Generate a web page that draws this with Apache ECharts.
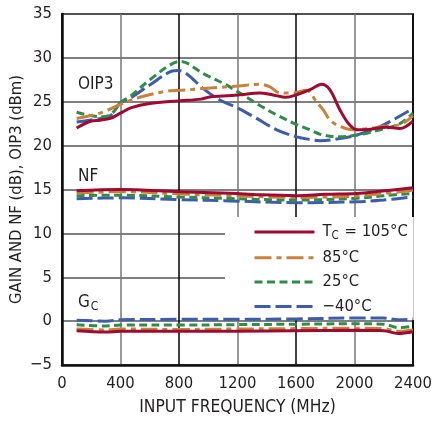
<!DOCTYPE html>
<html><head><meta charset="utf-8">
<script src="https://cdn.jsdelivr.net/npm/echarts/dist/echarts.min.js"></script>
<style>html,body{margin:0;padding:0;background:#fff}#c{width:433px;height:423px}</style>
</head><body><div id="c"></div>
<script>
// ---- data ----
const seriesNames = ['TC = 105°C', '85°C', '25°C', '−40°C'];
const xTicks = [0, 400, 800, 1200, 1600, 2000, 2400];
const yTicks = [-5, 0, 5, 10, 15, 20, 25, 30, 35];
const yTitle = 'GAIN AND NF (dB), OIP3 (dBm)';
const xTitle = 'INPUT FREQUENCY (MHz)';

const oip3_105 = [[100,22.0],[200,22.8],[260,22.9],[330,23.1],[400,23.7],[470,24.3],[600,24.8],[800,25.1],[950,25.3],[1010,25.55],[1100,25.65],[1220,25.8],[1350,26.0],[1450,25.75],[1530,25.5],[1605,25.8],[1700,26.4],[1775,27.0],[1830,26.4],[1900,24.1],[1960,22.5],[2020,21.8],[2100,21.85],[2220,22.1],[2310,21.95],[2400,22.8]];
const oip3_85 = [[100,23.1],[260,23.7],[400,24.7],[550,25.6],[740,26.25],[810,26.3],[966,26.5],[1206,26.8],[1354,27.0],[1422,26.7],[1491,26.0],[1580,26.0],[1670,26.3],[1740,25.0],[1790,24.0],[1833,22.9],[1900,22.2],[1990,21.8],[2100,21.95],[2195,22.2],[2310,22.4],[2400,23.4]];
const oip3_25 = [[100,23.8],[260,23.3],[330,23.5],[400,24.9],[465,25.6],[600,27.5],[740,29.2],[810,29.6],[966,28.2],[1103,27.1],[1206,26.1],[1331,24.8],[1468,23.5],[1605,22.4],[1696,21.8],[1765,21.3],[1900,21.0],[2015,21.2],[2175,21.8],[2310,22.5],[2400,23.7]];
const oip3_m40 = [[100,22.7],[260,23.1],[330,23.4],[400,24.9],[465,25.4],[600,26.9],[738,28.4],[800,28.55],[852,28.2],[966,26.5],[1080,25.2],[1206,24.25],[1331,23.1],[1468,21.8],[1605,21.0],[1696,20.7],[1765,20.56],[1901,20.8],[2015,21.2],[2175,22.16],[2400,24.25]];

const nf_105 = [[100,14.85],[400,15.0],[800,14.75],[1150,14.57],[1350,14.4],[1600,14.3],[1800,14.45],[2015,14.55],[2175,14.8],[2400,15.2]];
const nf_85 = [[100,14.6],[400,14.75],[800,14.5],[1150,14.3],[1600,14.1],[2015,14.25],[2175,14.5],[2400,14.9]];
const nf_25 = [[100,14.3],[400,14.35],[800,14.15],[1150,13.97],[1600,13.8],[2015,14.0],[2200,14.3],[2400,14.55]];
const nf_m40 = [[100,13.95],[400,14.05],[800,13.85],[1150,13.7],[1600,13.5],[2015,13.6],[2200,13.8],[2400,14.15]];

const gc_105 = [[100,-1.1],[300,-1.25],[400,-1.15],[800,-1.15],[1200,-1.15],[1600,-1.1],[2000,-1.05],[2200,-1.1],[2300,-1.4],[2400,-1.2]];
const gc_85 = [[100,-0.9],[300,-1.0],[400,-0.9],[800,-0.95],[1200,-0.9],[1600,-0.85],[2000,-0.8],[2200,-0.85],[2300,-1.15],[2400,-1.0]];
const gc_25 = [[100,-0.4],[300,-0.55],[400,-0.45],[800,-0.45],[1200,-0.4],[1600,-0.35],[2000,-0.3],[2200,-0.35],[2300,-0.75],[2400,-0.6]];
const gc_m40 = [[100,0.1],[300,0.0],[400,0.15],[800,0.2],[1200,0.2],[1600,0.25],[2000,0.35],[2200,0.35],[2300,0.15],[2400,0.25]];

// ---- styles ----
const FONT = '"DejaVu Sans Condensed", "Liberation Sans Narrow", sans-serif';
const TXT = '#231f20';
const styles = [
  {color:'#9e0a32', type:'solid'},
  {color:'#c8823c', type:[17,5,5,5]},
  {color:'#2f8c4a', type:[8,4.5]},
  {color:'#3d5cab', type:[16,5]}
];
const groups = [
  [oip3_105, oip3_85, oip3_25, oip3_m40],
  [nf_105, nf_85, nf_25, nf_m40],
  [gc_105, gc_85, gc_25, gc_m40]
];
const series = [];
groups.forEach(g => {
  g.forEach((d, i) => {
    series.push({
      name: seriesNames[i], type: 'line', data: d, smooth: 0.35,
      symbol: 'none', showSymbol: false, z: 10 - i,
      lineStyle: {color: styles[i].color, width: 3, type: styles[i].type},
      itemStyle: {color: styles[i].color}
    });
  });
});

const chart = echarts.init(document.getElementById('c'), null, {renderer: 'canvas'});
chart.setOption({
  animation: false,
  backgroundColor: '#fff',
  grid: {left: 62, right: 20, top: 14, bottom: 58, containLabel: false, outerBoundsMode: 'none',
         show: true, borderColor: '#444', borderWidth: 2},
  xAxis: {
    type: 'value', min: xTicks[0], max: xTicks[xTicks.length-1], interval: 400,
    axisLine: {show: true, onZero: false, lineStyle: {color: '#111', width: 2.5}},
    axisTick: {show: false},
    splitLine: {show: true, lineStyle: {color: ['#000', '#777'], width: 1.5}},
    axisLabel: {fontFamily: FONT, fontSize: 16.5, color: TXT, margin: 10, formatter: v => String(v)},
    name: xTitle, nameLocation: 'middle', nameGap: 34, nameMoveOverlap: false,
    nameTextStyle: {fontFamily: FONT, fontSize: 17.3, color: TXT}
  },
  yAxis: {
    type: 'value', min: yTicks[0], max: yTicks[yTicks.length-1], interval: 5,
    axisLine: {show: true, onZero: false, lineStyle: {color: '#111', width: 2.5}},
    axisTick: {show: false},
    splitLine: {show: true, lineStyle: {color: '#555', width: 1.5}},
    axisLabel: {fontFamily: FONT, fontSize: 16.5, color: TXT, margin: 10, formatter: v => String(v).replace('-', '−')},
    name: yTitle, nameLocation: 'middle', nameGap: 37, nameMoveOverlap: false,
    nameTextStyle: {fontFamily: FONT, fontSize: 16.5, color: TXT}
  },
  legend: {
    data: seriesNames, orient: 'vertical', left: 225, top: 217,
    backgroundColor: '#fff', padding: [5, 6, 5, 28],
    itemWidth: 60, itemHeight: 14, itemGap: 7.3,
    itemStyle: {opacity: 0},
    lineStyle: {width: 3},
    formatter: n => n === seriesNames[0] ? '{n|T}{s|C}{n| = 105°C}' : '{n|' + n + '}',
    textStyle: {fontFamily: FONT, fontSize: 16.5, color: TXT, padding: [0,0,0,3],
      rich: {
        n: {fontFamily: FONT, fontSize: 16.5, color: TXT, lineHeight: 16},
        s: {fontFamily: FONT, fontSize: 11.5, color: TXT, lineHeight: 16, padding: [8, 1, 0, 0]}
      }}
  },
  graphic: [
    {type: 'text', left: 78, top: 76, style: {text: 'OIP3', font: '17px ' + FONT, fill: TXT}},
    {type: 'text', left: 78, top: 168, style: {text: 'NF', font: '17px ' + FONT, fill: TXT}},
    {type: 'text', left: 78, top: 293, style: {
      text: '{n|G}{s|C}', rich: {
        n: {font: '17px ' + FONT, fill: TXT, lineHeight: 20},
        s: {font: '12px ' + FONT, fill: TXT, lineHeight: 20, padding: [8, 0, 0, 1]}
      }}}
  ],
  series: series
});
</script></body></html>
